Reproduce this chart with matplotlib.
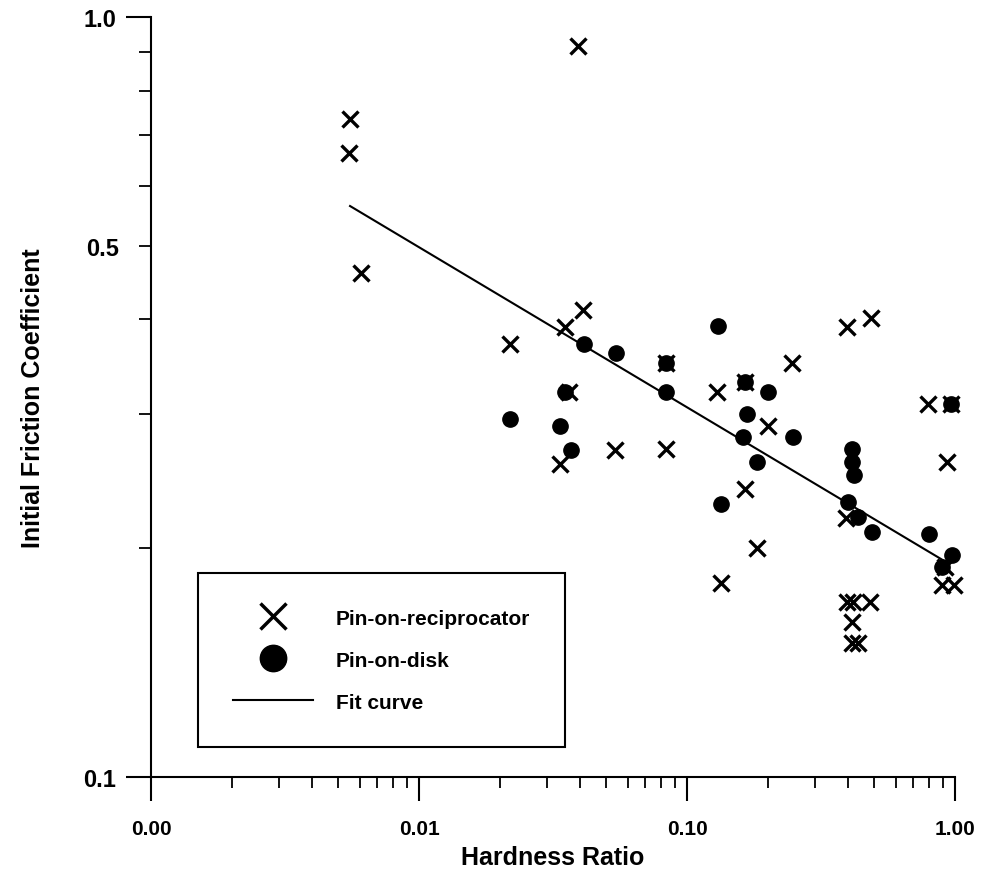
import numpy as np
import matplotlib
matplotlib.use('Agg')
import matplotlib.pyplot as plt
from matplotlib.lines import Line2D

plt.rcParams['font.family'] = ['Liberation Sans', 'DejaVu Sans']
plt.rcParams['font.weight'] = 'bold'

# pin-on-reciprocator points
recip_x = [0.0393, 0.00553, 0.00548, 0.00606, 0.0410, 0.0351, 0.0219, 0.0364, 0.0336, 0.0539,
           0.0835, 0.0832, 0.1298, 0.1646, 0.247, 0.201, 0.1646, 0.182, 0.1335, 0.394,
           0.485, 0.795, 0.964, 0.931, 0.391, 0.894, 0.99, 0.918, 0.395, 0.416,
           0.482, 0.412, 0.413, 0.435]
recip_y = [0.917, 0.734, 0.663, 0.460, 0.411, 0.391, 0.371, 0.321, 0.258, 0.269,
           0.270, 0.351, 0.321, 0.331, 0.351, 0.290, 0.239, 0.200, 0.180, 0.391,
           0.402, 0.310, 0.310, 0.260, 0.219, 0.179, 0.179, 0.189, 0.170, 0.170,
           0.170, 0.160, 0.150, 0.150]

# pin-on-disk points
disk_x = [0.0413, 0.0543, 0.0219, 0.0336, 0.0368, 0.0351, 0.0835, 0.0832, 0.130, 0.1335,
          0.201, 0.167, 0.162, 0.182, 0.248, 0.414, 0.412, 0.421, 0.400, 0.436,
          0.490, 0.80, 0.977, 0.892, 0.1646, 0.964]
disk_y = [0.371, 0.361, 0.296, 0.290, 0.269, 0.321, 0.321, 0.351, 0.392, 0.229,
          0.321, 0.300, 0.280, 0.260, 0.280, 0.270, 0.260, 0.250, 0.230, 0.220,
          0.210, 0.209, 0.196, 0.189, 0.331, 0.310]

# fit curve ends
fit_x = [0.00553, 0.931]
fit_y = [0.564, 0.1916]

xticks = [0.001, 0.01, 0.1, 1.0]
xtick_labels = ['0.00', '0.01', '0.10', '1.00']
yticks = [0.1, 1.0]
ytick_labels = ['0.1', '1.0']
yminor = [0.2, 0.3, 0.4, 0.5, 0.6, 0.7, 0.8, 0.9]
yminor_labels = ['', '', '', '0.5', '', '', '', '']

# graphic
fig = plt.figure(figsize=(9.86, 8.78), dpi=100)
ax = fig.add_axes([151/986, 100/878, 804/986, 760/878])

ax.plot(fit_x, fit_y, 'k-', lw=1.5)
ax.plot(recip_x, recip_y, 'kx', ms=11.5, mew=2.4, ls='none', clip_on=False)
ax.plot(disk_x, disk_y, 'ko', ms=11, ls='none', clip_on=False)

ax.set_xscale('log')
ax.set_yscale('log')
ax.set_xlim(0.001, 1.0)
ax.set_ylim(0.1, 1.0)

ax.set_xticks(xticks)
ax.set_xticklabels(xtick_labels)
ax.set_xticks([m * d for d in [0.001, 0.01, 0.1] for m in range(2, 10)], minor=True)
ax.set_xticklabels([], minor=True)
ax.set_yticks(yticks)
ax.set_yticklabels(ytick_labels)
ax.set_yticks(yminor, minor=True)
ax.set_yticklabels(yminor_labels, minor=True)

ax.tick_params(axis='x', which='major', direction='out', length=17, width=1.5, pad=13, labelsize=15)
ax.tick_params(axis='x', which='minor', direction='out', length=8, width=1.3)
ax.tick_params(axis='y', which='major', direction='out', length=18, width=1.5, pad=7, labelsize=17)
ax.tick_params(axis='y', which='minor', direction='out', length=9, width=1.3, pad=14, labelsize=17)

for s in ['top', 'right']:
  ax.spines[s].set_visible(False)
for s in ['left', 'bottom']:
  ax.spines[s].set_linewidth(1.5)

ax.set_xlabel('Hardness Ratio', fontsize=18, fontweight='bold', labelpad=5)
ax.set_ylabel('Initial Friction Coefficient', fontsize=18, fontweight='bold', labelpad=28)

# legend
handles = [Line2D([], [], color='k', marker='x', ms=19, mew=2.5, ls='none'),
           Line2D([], [], color='k', marker='o', ms=19, ls='none'),
           Line2D([], [], color='k', lw=1.5)]
names = ['Pin-on-reciprocator', 'Pin-on-disk', 'Fit curve']
leg = ax.legend(handles, names, loc='upper left', bbox_to_anchor=(0.0585, 0.268),
                borderaxespad=0, fancybox=False, framealpha=1, edgecolor='k',
                fontsize=15, handlelength=3.8, handletextpad=1.1, borderpad=1.7,
                labelspacing=1.1)
leg.get_frame().set_linewidth(1.5)

plt.savefig('out.png', dpi=100)
